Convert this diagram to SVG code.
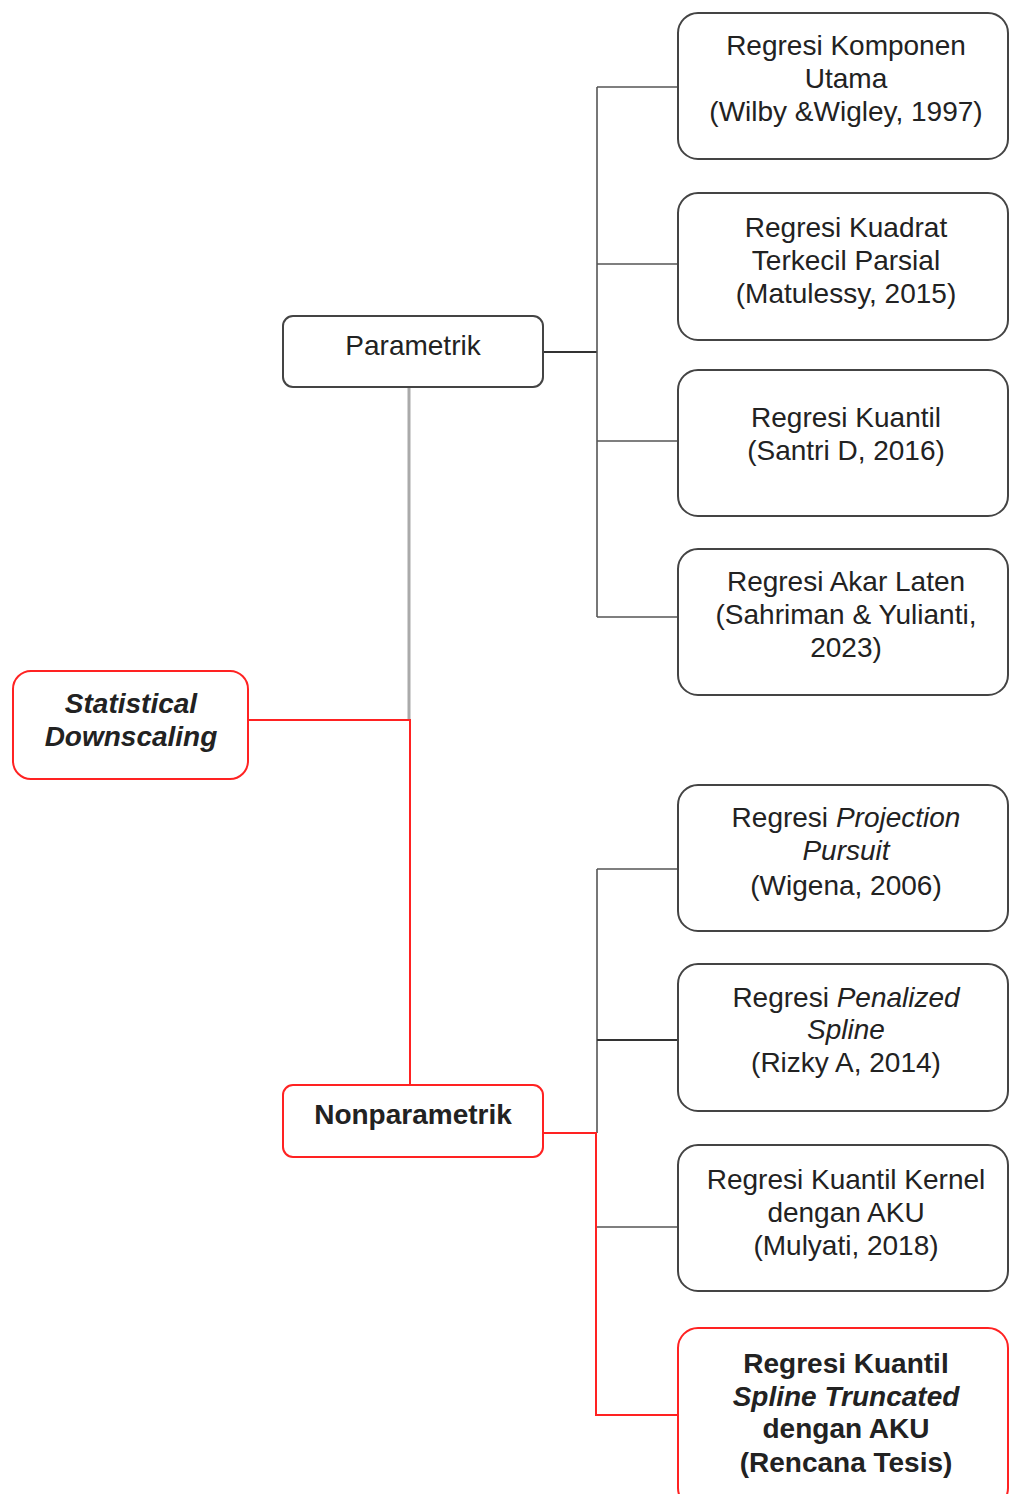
<svg xmlns="http://www.w3.org/2000/svg" width="1011" height="1494" viewBox="0 0 1011 1494">
<style>
text{font-family:"Liberation Sans",Arial,sans-serif;font-size:28px;fill:#222;text-anchor:middle}
.b{font-weight:bold}
.i{font-style:italic}
.box{fill:#fff;stroke:#444;stroke-width:2}
.rbox{fill:#fff;stroke:#f22;stroke-width:2}
.k{stroke:#333;stroke-width:2;fill:none}
.g{stroke:#555;stroke-width:1.6;fill:none}
.gr{stroke:#aaa;stroke-width:3;fill:none}
.r{stroke:#f22;stroke-width:2;fill:none}
</style>
<g id="connectors">
<line class="gr" x1="409" y1="387" x2="409" y2="720"/>
<polyline class="r" points="248,720 410,720 410,1085"/>
<line class="k" x1="543" y1="352" x2="597" y2="352"/>
<line class="g" x1="597" y1="87" x2="597" y2="617"/>
<line class="g" x1="597" y1="87" x2="678" y2="87"/>
<line class="g" x1="597" y1="264" x2="678" y2="264"/>
<line class="g" x1="597" y1="441" x2="678" y2="441"/>
<line class="g" x1="597" y1="617" x2="678" y2="617"/>
<line class="g" x1="597" y1="869" x2="597" y2="1133"/>
<line class="g" x1="597" y1="869" x2="678" y2="869"/>
<line class="k" x1="597" y1="1040" x2="678" y2="1040"/>
<line class="g" x1="597" y1="1227" x2="678" y2="1227"/>
<polyline class="r" points="543,1133 596,1133 596,1415 678,1415"/>
</g>
<g id="statistical-downscaling">
<rect class="rbox" x="13" y="671" width="235" height="108" rx="18"/>
<text class="b i" x="131" y="713">Statistical</text>
<text class="b i" x="131" y="746">Downscaling</text>
</g>
<g id="parametrik">
<rect class="box" x="283" y="316" width="260" height="71" rx="10"/>
<text x="413" y="355">Parametrik</text>
</g>
<g id="nonparametrik">
<rect class="rbox" x="283" y="1085" width="260" height="72" rx="10"/>
<text class="b" x="413" y="1124">Nonparametrik</text>
</g>
<g id="komponen-utama">
<rect class="box" x="678" y="13" width="330" height="146" rx="20"/>
<text x="846" y="55">Regresi Komponen</text>
<text x="846" y="88">Utama</text>
<text x="846" y="121">(Wilby &amp;Wigley, 1997)</text>
</g>
<g id="kuadrat-terkecil">
<rect class="box" x="678" y="193" width="330" height="147" rx="20"/>
<text x="846" y="237">Regresi Kuadrat</text>
<text x="846" y="270">Terkecil Parsial</text>
<text x="846" y="303">(Matulessy, 2015)</text>
</g>
<g id="kuantil">
<rect class="box" x="678" y="370" width="330" height="146" rx="20"/>
<text x="846" y="427">Regresi Kuantil</text>
<text x="846" y="460">(Santri D, 2016)</text>
</g>
<g id="akar-laten">
<rect class="box" x="678" y="549" width="330" height="146" rx="20"/>
<text x="846" y="591">Regresi Akar Laten</text>
<text x="846" y="624">(Sahriman &amp; Yulianti,</text>
<text x="846" y="657">2023)</text>
</g>
<g id="projection-pursuit">
<rect class="box" x="678" y="785" width="330" height="146" rx="20"/>
<text x="846" y="827">Regresi <tspan class="i">Projection</tspan></text>
<text class="i" x="846" y="860">Pursuit</text>
<text x="846" y="895">(Wigena, 2006)</text>
</g>
<g id="penalized-spline">
<rect class="box" x="678" y="964" width="330" height="147" rx="20"/>
<text x="846" y="1007">Regresi <tspan class="i">Penalized</tspan></text>
<text class="i" x="846" y="1039">Spline</text>
<text x="846" y="1072">(Rizky A, 2014)</text>
</g>
<g id="kuantil-kernel">
<rect class="box" x="678" y="1145" width="330" height="146" rx="20"/>
<text x="846" y="1189">Regresi Kuantil Kernel</text>
<text x="846" y="1222">dengan AKU</text>
<text x="846" y="1255">(Mulyati, 2018)</text>
</g>
<g id="spline-truncated">
<rect class="rbox" x="678" y="1328" width="330" height="180" rx="20"/>
<text class="b" x="846" y="1373">Regresi Kuantil</text>
<text class="b i" x="846" y="1406">Spline Truncated</text>
<text class="b" x="846" y="1438">dengan AKU</text>
<text class="b" x="846" y="1472">(Rencana Tesis)</text>
</g>
</svg>
